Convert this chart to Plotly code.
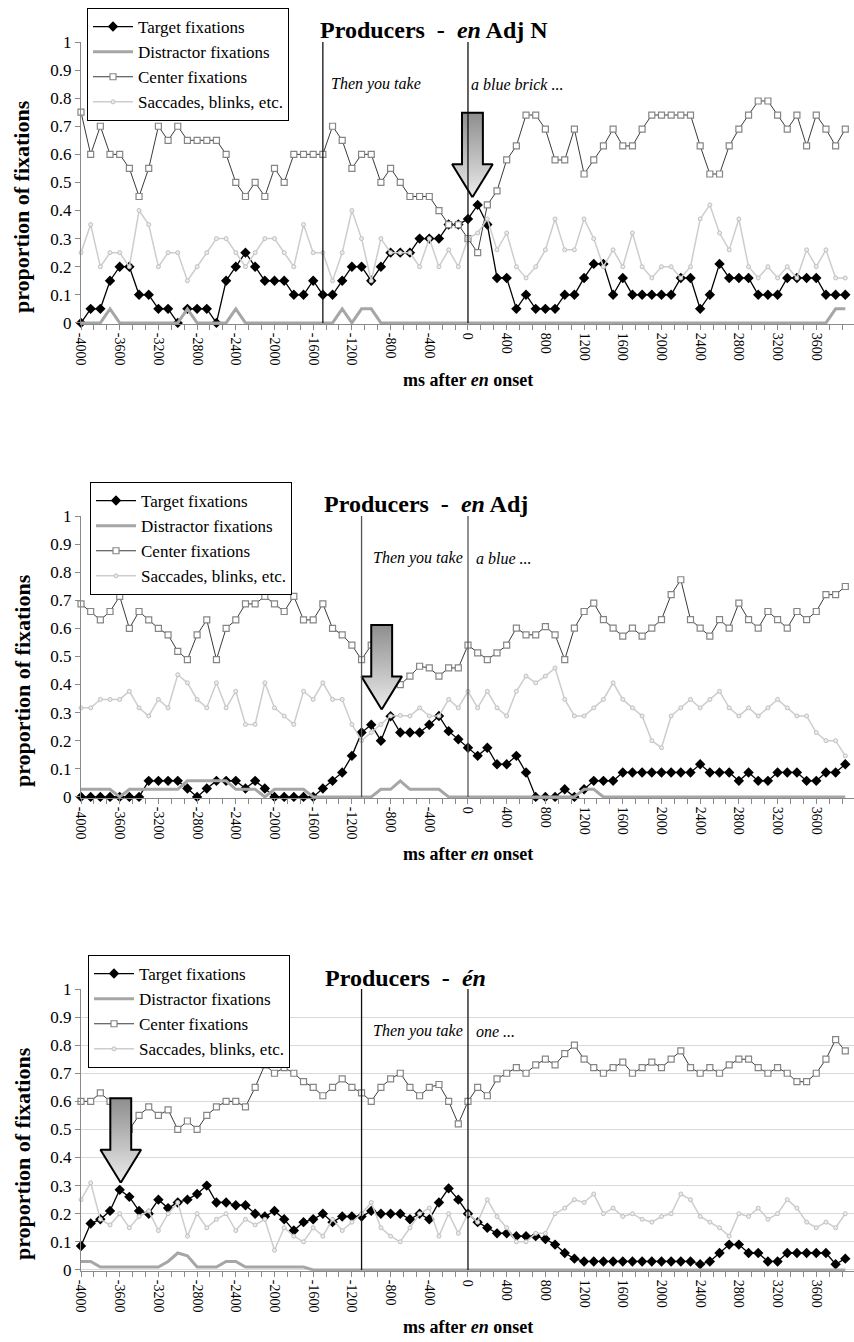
import plotly.graph_objects as go
from plotly.subplots import make_subplots

W, H = 854, 1342
FONT = "Liberation Serif"

# time bins (ms after "en" onset), sampled every 100 ms
X_MS = list(range(-4000, 4000, 100))
X_TICKS = list(range(-4000, 4000, 400))

# ---- Panel 1: Producers - en Adj N
P1_TARGET = [0, 0.05, 0.05, 0.15, 0.2, 0.2, 0.1, 0.1, 0.05, 0.05,
             0, 0.05, 0.05, 0.05, 0, 0.15, 0.2, 0.25, 0.2, 0.15,
             0.15, 0.15, 0.1, 0.1, 0.15, 0.1, 0.1, 0.15, 0.2, 0.2,
             0.15, 0.2, 0.25, 0.25, 0.25, 0.3, 0.3, 0.3, 0.35, 0.35,
             0.37, 0.42, 0.35, 0.16, 0.16, 0.05, 0.1, 0.05, 0.05, 0.05,
             0.1, 0.1, 0.16, 0.21, 0.21, 0.1, 0.16, 0.1, 0.1, 0.1,
             0.1, 0.1, 0.16, 0.16, 0.05, 0.1, 0.21, 0.16, 0.16, 0.16,
             0.1, 0.1, 0.1, 0.16, 0.16, 0.16, 0.16, 0.1, 0.1, 0.1]
P1_DIST = [0, 0, 0, 0.05, 0, 0, 0, 0, 0, 0,
           0, 0.05, 0, 0, 0, 0, 0.05, 0, 0, 0,
           0, 0, 0, 0, 0, 0, 0, 0.05, 0, 0.05,
           0.05, 0, 0, 0, 0, 0, 0, 0, 0, 0,
           0, 0, 0, 0, 0, 0, 0, 0, 0, 0,
           0, 0, 0, 0, 0, 0, 0, 0, 0, 0,
           0, 0, 0, 0, 0, 0, 0, 0, 0, 0,
           0, 0, 0, 0, 0, 0, 0, 0, 0.05, 0.05]
P1_CENTER = [0.75, 0.6, 0.7, 0.6, 0.6, 0.55, 0.45, 0.55, 0.7, 0.65,
             0.7, 0.65, 0.65, 0.65, 0.65, 0.6, 0.5, 0.45, 0.5, 0.45,
             0.55, 0.5, 0.6, 0.6, 0.6, 0.6, 0.7, 0.65, 0.55, 0.6,
             0.6, 0.5, 0.55, 0.5, 0.45, 0.45, 0.45, 0.4, 0.35, 0.35,
             0.3, 0.25, 0.42, 0.47, 0.58, 0.63, 0.74, 0.74, 0.69, 0.58,
             0.58, 0.69, 0.53, 0.58, 0.63, 0.69, 0.63, 0.63, 0.69, 0.74,
             0.74, 0.74, 0.74, 0.74, 0.63, 0.53, 0.53, 0.63, 0.69, 0.74,
             0.79, 0.79, 0.74, 0.69, 0.74, 0.63, 0.74, 0.69, 0.63, 0.69]
P1_SACC = [0.25, 0.35, 0.2, 0.25, 0.25, 0.2, 0.4, 0.35, 0.2, 0.25,
           0.25, 0.15, 0.2, 0.25, 0.3, 0.3, 0.25, 0.2, 0.25, 0.3,
           0.3, 0.25, 0.2, 0.35, 0.25, 0.25, 0.15, 0.25, 0.4, 0.3,
           0.15, 0.3, 0.25, 0.25, 0.25, 0.2, 0.3, 0.2, 0.26, 0.2,
           0.3, 0.32, 0.37, 0.26, 0.32, 0.2, 0.16, 0.2, 0.26, 0.37,
           0.26, 0.26, 0.37, 0.3, 0.2, 0.26, 0.2, 0.32, 0.2, 0.16,
           0.2, 0.2, 0.16, 0.2, 0.37, 0.42, 0.32, 0.26, 0.37, 0.2,
           0.16, 0.2, 0.16, 0.2, 0.16, 0.26, 0.2, 0.26, 0.16, 0.16]

# ---- Panel 2: Producers - en Adj
P2_TARGET = [0, 0, 0, 0, 0, 0, 0, 0.057, 0.057, 0.057,
             0.057, 0.03, 0, 0.03, 0.057, 0.057, 0.057, 0.03, 0.057, 0.03,
             0, 0, 0, 0, 0, 0.03, 0.057, 0.087, 0.146, 0.229,
             0.257, 0.2, 0.287, 0.229, 0.229, 0.229, 0.257, 0.288, 0.234, 0.205,
             0.175, 0.146, 0.175, 0.116, 0.116, 0.146, 0.087, 0, 0, 0,
             0.027, 0, 0.027, 0.057, 0.057, 0.057, 0.087, 0.087, 0.087, 0.087,
             0.087, 0.087, 0.087, 0.087, 0.116, 0.087, 0.087, 0.087, 0.057, 0.087,
             0.057, 0.057, 0.087, 0.087, 0.087, 0.057, 0.057, 0.087, 0.087, 0.116]
P2_DIST = [0.027, 0.027, 0.027, 0.027, 0, 0.027, 0.027, 0.027, 0.027, 0.027,
           0.027, 0.057, 0.057, 0.057, 0.057, 0.057, 0.027, 0.027, 0.027, 0,
           0.027, 0.027, 0.027, 0.027, 0, 0, 0, 0, 0, 0,
           0, 0.027, 0.027, 0.057, 0.027, 0.027, 0.027, 0.027, 0, 0,
           0, 0, 0, 0, 0, 0, 0, 0, 0, 0,
           0, 0, 0.027, 0.027, 0, 0, 0, 0, 0, 0,
           0, 0, 0, 0, 0, 0, 0, 0, 0, 0,
           0, 0, 0, 0, 0, 0, 0, 0, 0, 0]
P2_CENTER = [0.687, 0.66, 0.63, 0.66, 0.714, 0.6, 0.66, 0.63, 0.6, 0.577,
             0.518, 0.489, 0.577, 0.63, 0.489, 0.6, 0.63, 0.687, 0.687, 0.714,
             0.687, 0.66, 0.714, 0.63, 0.63, 0.687, 0.6, 0.577, 0.54, 0.489,
             0.54, 0.435, 0.4, 0.4, 0.43, 0.465, 0.459, 0.43, 0.459, 0.459,
             0.54, 0.513, 0.489, 0.513, 0.54, 0.601, 0.577, 0.577, 0.606, 0.577,
             0.489, 0.601, 0.66, 0.69, 0.631, 0.601, 0.572, 0.601, 0.572, 0.601,
             0.631, 0.72, 0.773, 0.631, 0.601, 0.572, 0.631, 0.601, 0.69, 0.631,
             0.601, 0.66, 0.631, 0.601, 0.66, 0.631, 0.66, 0.72, 0.72, 0.749]
P2_SACC = [0.317, 0.317, 0.347, 0.347, 0.347, 0.376, 0.317, 0.288, 0.347, 0.317,
           0.435, 0.406, 0.347, 0.317, 0.406, 0.317, 0.376, 0.258, 0.258, 0.406,
           0.317, 0.288, 0.258, 0.376, 0.347, 0.406, 0.347, 0.347, 0.258, 0.2,
           0.229, 0.258, 0.288, 0.29, 0.288, 0.317, 0.288, 0.288, 0.347, 0.317,
           0.376, 0.317, 0.376, 0.317, 0.288, 0.376, 0.43, 0.406, 0.43, 0.459,
           0.347, 0.288, 0.288, 0.317, 0.347, 0.406, 0.347, 0.317, 0.288, 0.2,
           0.175, 0.288, 0.317, 0.347, 0.317, 0.347, 0.376, 0.317, 0.288, 0.317,
           0.288, 0.317, 0.347, 0.317, 0.288, 0.288, 0.229, 0.2, 0.2, 0.146]

# ---- Panel 3: Producers - én
P3_TARGET = [0.085, 0.165, 0.18, 0.21, 0.285, 0.26, 0.21, 0.2, 0.25, 0.22,
             0.24, 0.25, 0.27, 0.3, 0.24, 0.24, 0.23, 0.23, 0.2, 0.19,
             0.21, 0.18, 0.14, 0.17, 0.18, 0.2, 0.17, 0.19, 0.19, 0.19,
             0.21, 0.2, 0.2, 0.2, 0.18, 0.2, 0.18, 0.24, 0.29, 0.25,
             0.2, 0.17, 0.15, 0.13, 0.13, 0.12, 0.12, 0.12, 0.11, 0.09,
             0.06, 0.04, 0.03, 0.03, 0.03, 0.03, 0.03, 0.03, 0.03, 0.03,
             0.03, 0.03, 0.03, 0.03, 0.02, 0.03, 0.06, 0.09, 0.09, 0.06,
             0.06, 0.03, 0.03, 0.06, 0.06, 0.06, 0.06, 0.06, 0.02, 0.04]
P3_DIST = [0.03, 0.03, 0.01, 0.01, 0.01, 0.01, 0.01, 0.01, 0.01, 0.03,
           0.06, 0.05, 0.01, 0.01, 0.01, 0.03, 0.03, 0.01, 0.01, 0.01,
           0.01, 0.01, 0.01, 0.01, 0, 0, 0, 0, 0, 0,
           0, 0, 0, 0, 0, 0, 0, 0, 0, 0,
           0, 0, 0, 0, 0, 0, 0, 0, 0, 0,
           0, 0, 0, 0, 0, 0, 0, 0, 0, 0,
           0, 0, 0, 0, 0, 0, 0, 0, 0, 0,
           0, 0, 0, 0, 0, 0, 0, 0, 0, 0]
P3_CENTER = [0.6, 0.6, 0.63, 0.6, 0.55, 0.5, 0.55, 0.58, 0.55, 0.57,
             0.5, 0.53, 0.5, 0.55, 0.58, 0.6, 0.6, 0.58, 0.65, 0.73,
             0.7, 0.72, 0.7, 0.67, 0.65, 0.62, 0.65, 0.68, 0.65, 0.63,
             0.6, 0.65, 0.68, 0.7, 0.65, 0.62, 0.65, 0.66, 0.6, 0.52,
             0.6, 0.65, 0.62, 0.68, 0.7, 0.72, 0.7, 0.73, 0.75, 0.73,
             0.77, 0.8, 0.75, 0.72, 0.7, 0.72, 0.74, 0.7, 0.72, 0.74,
             0.72, 0.75, 0.78, 0.72, 0.7, 0.72, 0.7, 0.73, 0.75, 0.75,
             0.72, 0.7, 0.72, 0.7, 0.67, 0.67, 0.7, 0.75, 0.82, 0.78]
P3_SACC = [0.25, 0.31, 0.18, 0.16, 0.2, 0.15, 0.19, 0.21, 0.14, 0.2,
           0.24, 0.12, 0.2, 0.15, 0.18, 0.2, 0.14, 0.18, 0.16, 0.18,
           0.07, 0.15, 0.12, 0.1, 0.15, 0.12, 0.18, 0.14, 0.17, 0.2,
           0.24, 0.15, 0.12, 0.1, 0.15, 0.2, 0.22, 0.12, 0.2, 0.13,
           0.2, 0.17, 0.25, 0.19, 0.15, 0.1, 0.1, 0.13, 0.13, 0.2,
           0.22, 0.25, 0.24, 0.27, 0.2, 0.22, 0.19, 0.2, 0.18, 0.17,
           0.19, 0.2, 0.27, 0.25, 0.19, 0.17, 0.15, 0.12, 0.2, 0.19,
           0.22, 0.18, 0.2, 0.25, 0.22, 0.17, 0.15, 0.17, 0.15, 0.2]

SERIES_NAMES = ["Target fixations", "Distractor fixations",
                "Center fixations", "Saccades, blinks, etc."]

# block arrows: x position (ms) and y of the tip
ARROW_MS = [46, -892, -3589]
ARROW_TIP = [0.447, 0.311, 0.31]

PANELS = [
    dict(title="<b>Producers&nbsp;&nbsp;-&nbsp;&nbsp;<i>en</i> Adj N</b>",
         data=[P1_TARGET, P1_DIST, P1_CENTER, P1_SACC],
         lines=[-1500, 0], line_color="#111111", grid=False, top=42, bottom=324,
         title_x=318, title_y=30,
         notes=[("<i>Then you take</i>", -1500, 6, "left"),
                ("<i>a blue brick ...</i>", 0, 1, "left")]),
    dict(title="<b>Producers&nbsp;&nbsp;-&nbsp;&nbsp;<i>en</i> Adj</b>",
         data=[P2_TARGET, P2_DIST, P2_CENTER, P2_SACC],
         lines=[-1100, 0], line_color="#555555", grid=False, top=516, bottom=798,
         title_x=322, title_y=504,
         notes=[("<i>Then you take</i>", 0, -3, "right"),
                ("<i>a blue ...</i>", 0, 6, "left")]),
    dict(title="<b>Producers&nbsp;&nbsp;-&nbsp;&nbsp;<i>én</i></b>",
         data=[P3_TARGET, P3_DIST, P3_CENTER, P3_SACC],
         lines=[-1100, 0], line_color="#111111", grid=True, top=989, bottom=1271,
         title_x=323, title_y=978,
         notes=[("<i>Then you take</i>", 0, -3, "right"),
                ("<i>one ...</i>", 0, 6, "left")]),
]

LEGEND_BOX = [(87, 8), (90, 482), (88, 955)]


def trace_style(k):
    if k == 0:
        return dict(mode="lines+markers", line=dict(color="black", width=1.3),
                    marker=dict(symbol="diamond", size=8, color="black"))
    if k == 1:
        return dict(mode="lines", line=dict(color="#a6a6a6", width=3))
    if k == 2:
        return dict(mode="lines+markers", line=dict(color="#3a3a3a", width=1),
                    marker=dict(symbol="square", size=6, color="white",
                                line=dict(color="#858585", width=1.2)))
    return dict(mode="lines+markers", line=dict(color="#cdcdcd", width=1.5),
                marker=dict(symbol="circle", size=4, color="#ececec",
                            line=dict(color="#c0c0c0", width=1)))


def arrow_poly(cx, tip):
    head_hw, shaft_hw = 210, 108
    head_len, shaft_len = 0.118, 0.183
    yb = tip + head_len
    yt = yb + shaft_len
    xs = [cx, cx - head_hw, cx - shaft_hw, cx - shaft_hw,
          cx + shaft_hw, cx + shaft_hw, cx + head_hw, cx]
    ys = [tip, yb, yb, yt, yt, yb, yb, tip]
    return xs, ys


fig = make_subplots(rows=3, cols=1)
annotations = []
shapes = []

for i, p in enumerate(PANELS):
    row = i + 1
    leg = "legend" if i == 0 else f"legend{i + 1}"
    for k, ys in enumerate(p["data"]):
        fig.add_trace(go.Scatter(x=X_MS, y=ys, name=SERIES_NAMES[k], legend=leg,
                                 cliponaxis=False, **trace_style(k)),
                      row=row, col=1)

    ax, ay = arrow_poly(ARROW_MS[i], ARROW_TIP[i])
    fig.add_trace(go.Scatter(
        x=ax, y=ay, mode="lines", fill="toself", showlegend=False,
        line=dict(color="black", width=2),
        fillgradient=dict(type="vertical",
                          colorscale=[[0, "#ebebeb"], [1, "#8e8e8e"]]),
        hoverinfo="skip"), row=row, col=1)

    xa = "xaxis" if i == 0 else f"xaxis{i + 1}"
    ya = "yaxis" if i == 0 else f"yaxis{i + 1}"
    xref = "x" if i == 0 else f"x{i + 1}"
    yref = "y" if i == 0 else f"y{i + 1}"

    fig.update_layout({
        xa: dict(domain=[81 / W, 1], range=[-4000, 3990], automargin=False,
                 tickvals=X_TICKS, ticktext=[str(v) for v in X_TICKS],
                 tickangle=90, tickfont=dict(size=14, family=FONT, color="black"),
                 showline=True, linecolor="#8a8a8a", linewidth=1,
                 ticks="outside", ticklen=5, tickcolor="#8a8a8a",
                 minor=dict(dtick=400 / 3, tick0=-4000, ticks="outside",
                            ticklen=5, tickcolor="#8a8a8a"),
                 showgrid=False, zeroline=False),
        ya: dict(domain=[1 - p["bottom"] / H, 1 - p["top"] / H],
                 range=[-0.004, 1.0], automargin=False,
                 tickvals=[v / 10 for v in range(11)],
                 ticktext=["0", "0.1", "0.2", "0.3", "0.4", "0.5",
                           "0.6", "0.7", "0.8", "0.9", "1"],
                 tickfont=dict(size=17, family=FONT, color="black"),
                 showline=True, linecolor="#8a8a8a", linewidth=1,
                 ticks="outside", ticklen=5, tickcolor="#8a8a8a",
                 showgrid=p["grid"], gridcolor="#d9d9d9", gridwidth=1,
                 zeroline=False),
    })

    for lx in p["lines"]:
        shapes.append(dict(type="line", xref=xref, yref=yref, x0=lx, x1=lx,
                           y0=0, y1=1, line=dict(color=p["line_color"], width=1.3),
                           layer="above"))

    annotations.append(dict(text=p["title"], xref="paper", yref="paper",
                            x=p["title_x"] / W, y=1 - p["title_y"] / H,
                            xanchor="left", yanchor="middle", showarrow=False,
                            font=dict(size=24, family=FONT, color="black")))
    for text, xv, shift, anchor in p["notes"]:
        annotations.append(dict(text=text, xref=xref, yref=yref, x=xv, y=0.85,
                                xanchor=anchor, yanchor="middle", xshift=shift,
                                showarrow=False,
                                font=dict(size=16, family=FONT, color="black")))

    mid = (p["top"] + p["bottom"]) / 2
    annotations.append(dict(text="<b>proportion of fixations</b>", textangle=-90,
                            xref="paper", yref="paper", x=22 / W, y=1 - (mid + 24) / H,
                            xanchor="center", yanchor="middle", showarrow=False,
                            font=dict(size=22, family=FONT, color="black")))
    annotations.append(dict(text="<b>ms after <i>en</i> onset</b>",
                            xref="paper", yref="paper", x=468 / W,
                            y=1 - (p["bottom"] + 56) / H,
                            xanchor="center", yanchor="middle", showarrow=False,
                            font=dict(size=18, family=FONT, color="black")))

    lx, ly = LEGEND_BOX[i]
    fig.update_layout({leg: dict(
        x=lx / W, y=1 - ly / H, xanchor="left", yanchor="top",
        xref="paper", yref="paper",
        bgcolor="white", bordercolor="black", borderwidth=1,
        font=dict(size=17, family=FONT, color="black"),
        itemwidth=40, tracegroupgap=0,
    )})

fig.update_layout(
    width=W, height=H,
    margin=dict(l=0, r=0, t=0, b=0, pad=0, autoexpand=False),
    paper_bgcolor="white", plot_bgcolor="white",
    font=dict(family=FONT, color="black"),
    annotations=annotations, shapes=shapes,
)

# the page body has a default 8px margin; drop it so the figure sits at (0, 0)
fig.write_html("out.html", config={"displayModeBar": False},
               post_script="document.body.style.margin='0px';")
